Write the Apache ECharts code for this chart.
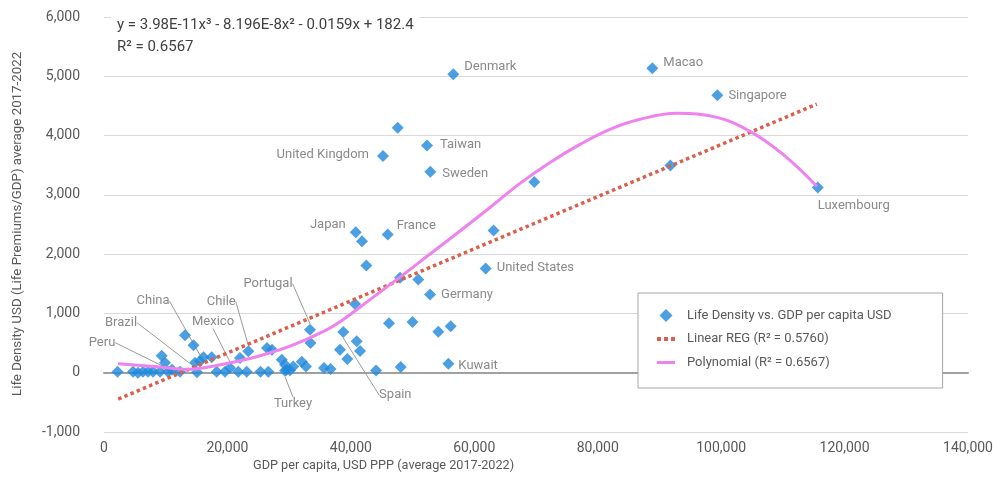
<!DOCTYPE html>
<html>
<head>
<meta charset="utf-8">
<script src="https://cdn.jsdelivr.net/npm/echarts@6/dist/echarts.min.js"></script>
<style>
html,body{margin:0;padding:0;background:#fff;}
#chart{width:1003px;height:481px;}
</style>
</head>
<body>
<div id="chart"></div>
<script>
// GDP per capita (USD PPP) and life density (USD)
var gdp = [2190, 4700, 5510, 6320, 7130, 7940, 9075, 10370, 11020, 12315,
	9350, 9885, 13125, 14500, 14745, 15070, 15560, 16125, 17450, 18260,
	19610, 20420, 21760, 22040, 23120, 23380, 25360, 26620, 26410, 27220,
	28800, 29330, 29600, 29330, 30680, 30140, 32040, 32730, 33380, 33460,
	35650, 36700, 38240, 38780, 39430, 40670, 40950, 41490, 44080, 46180,
	48080, 49990, 50930, 47970, 42510, 52830, 54170, 56180, 55800, 61850,
	63120, 40790, 41810, 45970, 45210, 47590, 52340, 52880, 56600, 69730,
	88850, 91770, 99390, 115650];
var density = [17, 17, 0, 17, 17, 17, 17, 17, 51, 17,
	287, 169, 633, 465, 169, 8, 194, 262, 262, 17,
	17, 79, 17, 248, 17, 360, 17, 17, 417, 389,
	220, 135, 51, 34, 106, 42, 186, 106, 726, 502,
	79, 62, 389, 687, 231, 1157, 529, 368, 39, 836,
	96, 856, 1571, 1600, 1807, 1318, 693, 782, 152, 1757,
	2399, 2370, 2218, 2331, 3654, 4133, 3834, 3390, 5034, 3215,
	5135, 3497, 4679, 3125];
var names = ['', '', '', '', '', '', '', '', '', 'Peru',
	'', '', '', '', 'Brazil', '', 'China', '', '', '',
	'', 'Mexico', '', '', '', 'Chile', '', '', '', '',
	'', '', '', 'Turkey', '', '', '', '', 'Portugal', '',
	'', '', '', 'Spain', '', '', '', '', '', '',
	'', '', '', '', '', 'Germany', '', '', 'Kuwait', 'United States',
	'', 'Japan', '', 'France', 'United Kingdom', '', 'Taiwan', 'Sweden', 'Denmark', '',
	'Macao', '', 'Singapore', 'Luxembourg'];

// trend lines
var linearGdp = [2300, 115500];
var linearVal = [-445, 4530];
var polyGdp = [2270, 8590, 13450, 17180, 21230, 25280, 30140, 35490, 38730, 43100,
	47970, 52830, 57690, 62550, 67410, 72270, 77130, 81990, 86850, 92850,
	99330, 104680, 110030, 115540];
var polyVal = [152, 101, 59, 101, 186, 287, 448, 693, 895, 1233,
	1613, 2002, 2390, 2787, 3193, 3547, 3851, 4105, 4274, 4375,
	4307, 4071, 3682, 3142];

var seriesNames = ['Life Density vs. GDP per capita USD', 'Linear REG (R\u00b2 = 0.5760)', 'Polynomial (R\u00b2 = 0.6567)'];
var equationText = 'y = 3.98E-11x\u00b3 - 8.196E-8x\u00b2 - 0.0159x + 182.4\nR\u00b2 = 0.6567';

// label placement relative to the point: [dx, dy, align, leader line]
var labelPos = {
	'Denmark': [11, -8, 'left'],
	'Macao': [11, -6, 'left'],
	'Singapore': [11, 0, 'left'],
	'Taiwan': [13, -1, 'left'],
	'Sweden': [12, 2, 'left'],
	'France': [9, -9, 'left'],
	'United States': [11, -1, 'left'],
	'Germany': [11, 0, 'left'],
	'Kuwait': [10, 2, 'left'],
	'Luxembourg': [0, 18, 'left'],
	'United Kingdom': [-14, -1, 'right'],
	'Japan': [-10, -7, 'right'],
	'Peru': [-78, -29, 'center', true],
	'Brazil': [-74, -40, 'center', true],
	'China': [-47, -60, 'center', true],
	'Mexico': [-17, -46, 'center', true],
	'Chile': [-27, -50, 'center', true],
	'Portugal': [-42, -46, 'center', true],
	'Turkey': [8, 33, 'center', true],
	'Spain': [52, 63, 'center', true]
};

var FONT = 'Roboto, sans-serif';
var fmt = function (v) { return v.toLocaleString('en-US'); };

var scatterData = [];
for (var i = 0; i < gdp.length; i++) {
	var item = { value: [gdp[i], density[i]], name: names[i] };
	if (names[i]) {
		item.label = { show: true, formatter: names[i] };
		if (labelPos[names[i]][3]) {
			item.labelLine = { show: true, lineStyle: { color: '#9a9a9a', width: 1 } };
		}
	}
	scatterData.push(item);
}
var linearData = linearGdp.map(function (x, i) { return [x, linearVal[i]]; });
var polyData = polyGdp.map(function (x, i) { return [x, polyVal[i]]; });

var myChart = echarts.init(document.getElementById('chart'));
var option = {
	backgroundColor: '#fff',
	animation: false,
	textStyle: { fontFamily: FONT },
	title: {
		text: equationText,
		left: 111,
		top: 12,
		padding: [2, 6, 2, 6],
		backgroundColor: '#fff',
		textStyle: { fontFamily: FONT, fontSize: 15, fontWeight: 'normal', color: '#404040', lineHeight: 22 }
	},
	legend: {
		orient: 'vertical',
		left: 638,
		top: 293,
		padding: [16, 51, 19, 19],
		itemGap: 10.5,
		itemWidth: 18,
		itemHeight: 13,
		symbolKeepAspect: true,
		borderColor: '#a6a6a6',
		borderWidth: 1,
		backgroundColor: '#fff',
		textStyle: { fontFamily: FONT, fontSize: 13, color: '#595959', padding: [0, 0, 0, 7] },
		data: [
			{ name: seriesNames[0], icon: 'path://M6,0L12,6L6,12L0,6Z' },
			{ name: seriesNames[1], icon: 'path://M0,0h4v4h-4z M7,0h4v4h-4z M14,0h4v4h-4z' },
			{ name: seriesNames[2], icon: 'path://M0,0h18v3h-18z' }
		]
	},
	grid: { left: 104, right: 35, top: 17, bottom: 49, containLabel: false },
	xAxis: {
		type: 'value',
		min: 0,
		max: 140000,
		interval: 20000,
		axisLine: { show: true, lineStyle: { color: '#a0a0a0', width: 2 } },
		axisTick: { show: false },
		splitLine: { show: false },
		axisLabel: { color: '#595959', fontSize: 14, fontFamily: FONT, margin: 9, formatter: fmt }
	},
	yAxis: {
		type: 'value',
		min: -1000,
		max: 6000,
		interval: 1000,
		axisLine: { show: false },
		axisTick: { show: false },
		splitLine: { lineStyle: { color: '#d9d9d9', width: 1.2 } },
		axisLabel: { color: '#595959', fontSize: 14, fontFamily: FONT, margin: 24, formatter: fmt }
	},
	graphic: [
		{
			type: 'text',
			left: 253,
			top: 459,
			style: { text: 'GDP per capita, USD PPP (average 2017-2022)', fill: '#595959', font: '12.7px ' + FONT }
		},
		{
			type: 'text',
			x: 11,
			y: 396,
			rotation: Math.PI / 2,
			style: { text: 'Life Density USD (Life Premiums/GDP) average 2017-2022', fill: '#595959', font: '13.3px ' + FONT }
		}
	],
	series: [
		{
			name: seriesNames[0],
			type: 'scatter',
			symbol: 'diamond',
			symbolSize: 12,
			itemStyle: { color: '#1f88db' },
			label: { show: false, color: '#6b6b6b', fontSize: 13, fontFamily: FONT },
			labelLayout: function (p) {
				var o = labelPos[names[p.dataIndex]];
				if (!o) return {};
				return {
					x: p.rect.x + p.rect.width / 2 + o[0],
					y: p.rect.y + p.rect.height / 2 + o[1],
					align: o[2],
					verticalAlign: 'middle'
				};
			},
			data: scatterData,
			z: 2
		},
		{
			name: seriesNames[1],
			type: 'line',
			showSymbol: false,
			symbol: 'none',
			lineStyle: { color: '#d9604c', width: 3.5, type: [3.5, 3.2] },
			itemStyle: { color: '#d9604c' },
			data: linearData,
			z: 3
		},
		{
			name: seriesNames[2],
			type: 'line',
			smooth: 0.4,
			showSymbol: false,
			symbol: 'none',
			lineStyle: { color: '#ee82ee', width: 3 },
			itemStyle: { color: '#ee82ee' },
			data: polyData,
			z: 3
		}
	]
};
myChart.setOption(option, true);
</script>
</body>
</html>
